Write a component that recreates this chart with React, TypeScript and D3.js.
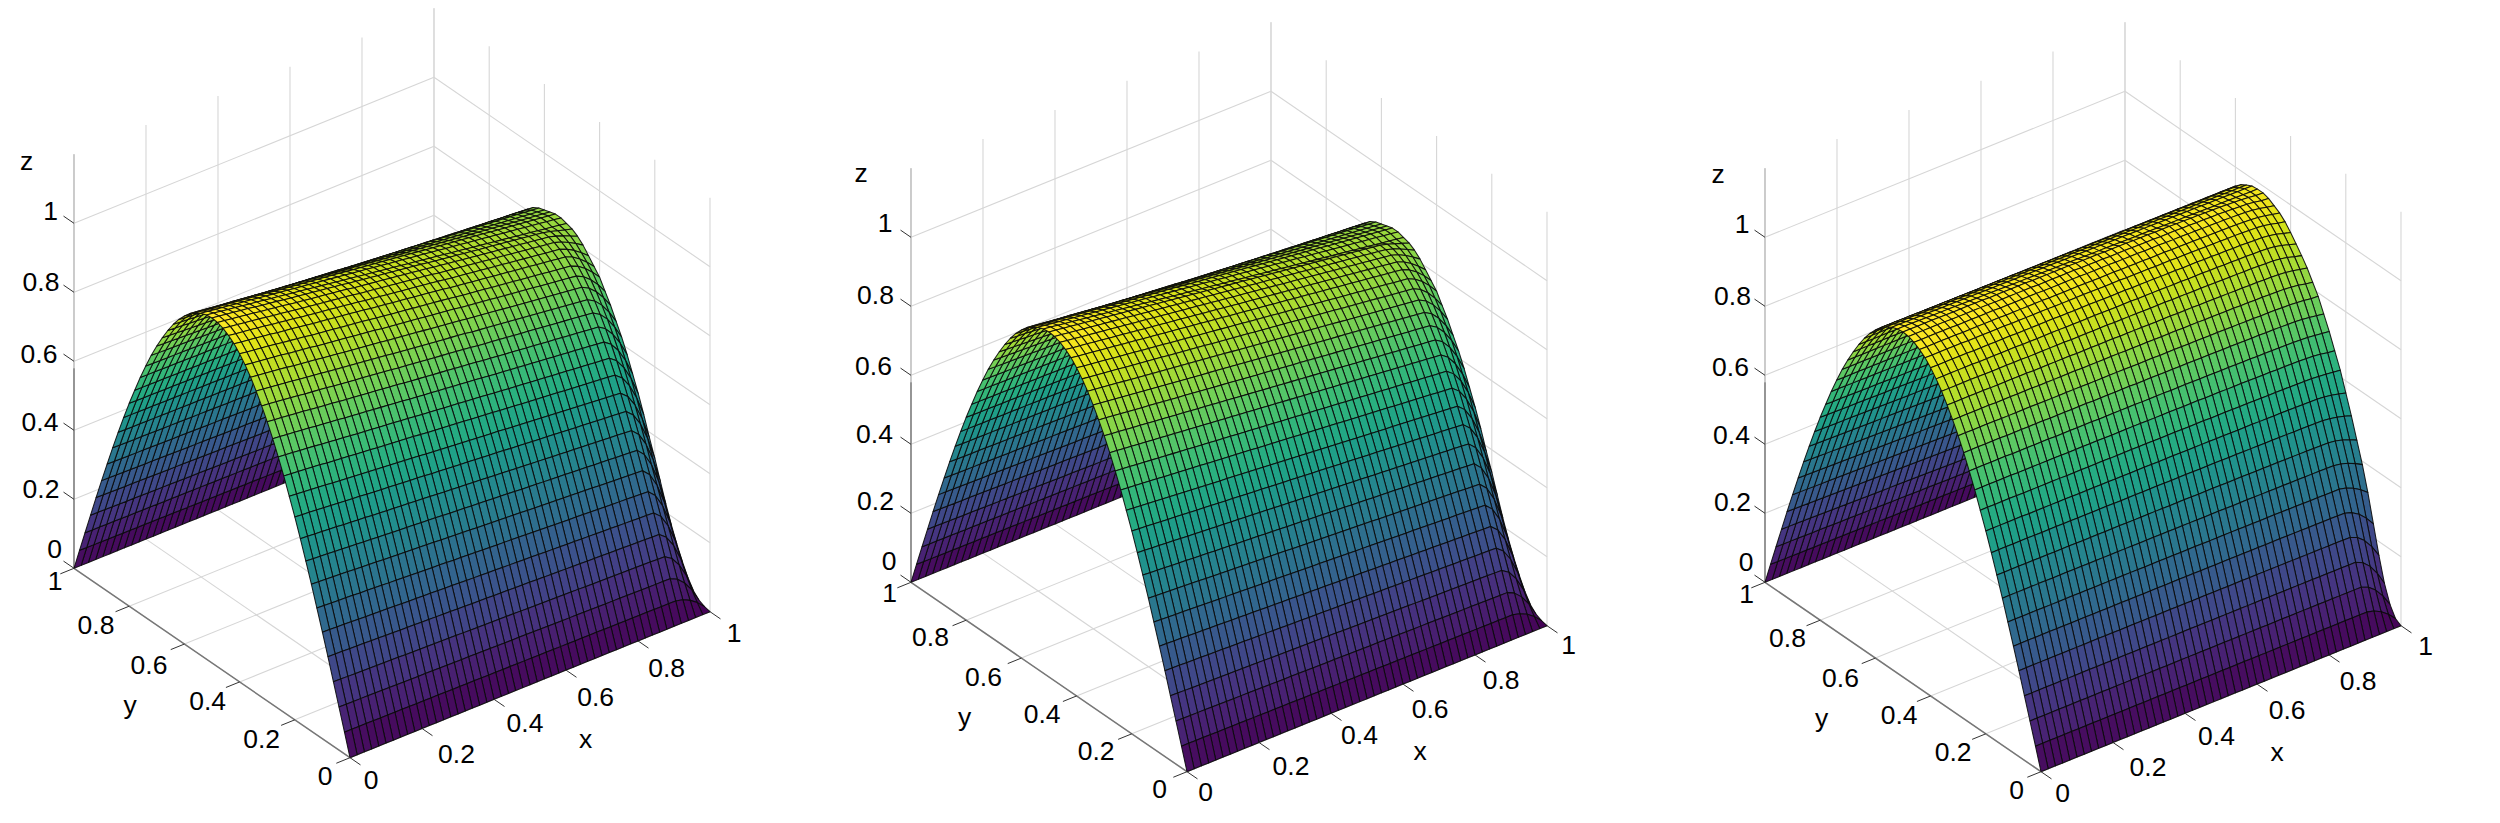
import React, { useMemo } from "react";
import * as d3 from "d3";

const xGrid = [0,.02,.04,.06,.08,.1,.12,.14,.16,.18,.2,.22,.24,.26,.28,.3,.32,.34,.36,.38,.4,.42,.44,.46,.48,.5,.52,.54,.56,.58,.6,.62,.64,.66,.68,.7,.72,.74,.76,.78,.8,.82,.84,.86,.88,.9,.92,.94,.96,.98,1];
const yGrid = xGrid;
const yProfile = [0,.063,.125,.187,.249,.309,.368,.426,.482,.536,.588,.637,.685,.729,.771,.809,.844,.876,.905,.93,.951,.969,.982,.992,.998,1,.998,.992,.982,.969,.951,.93,.905,.876,.844,.809,.771,.729,.685,.637,.588,.536,.482,.426,.368,.309,.249,.187,.125,.063,0];
const farLeft = [0,.004,.012,.028,.055,.09,.13,.175,.225,.28,.335,.385,.44,.49,.535,.58,.62,.655,.69,.72,.75,.77,.79,.81,.825,.835,.84,.845,.845,.84,.835,.83,.82,.805,.785,.765,.74,.71,.67,.625,.575,.525,.47,.41,.35,.29,.23,.17,.115,.055,0];
const farMiddle = [0,.004,.012,.028,.055,.09,.13,.175,.225,.28,.335,.385,.44,.49,.535,.58,.62,.655,.69,.72,.75,.77,.79,.81,.825,.835,.84,.845,.845,.84,.835,.83,.82,.805,.785,.765,.74,.71,.67,.625,.575,.525,.47,.41,.35,.29,.23,.17,.115,.055,0];
const farRight = [0,.01,.04,.09,.16,.24,.32,.39,.45,.51,.565,.62,.665,.71,.75,.79,.82,.85,.875,.898,.92,.94,.955,.965,.975,.98,.98,.978,.97,.96,.945,.925,.9,.875,.845,.81,.77,.725,.675,.62,.57,.515,.46,.4,.345,.285,.225,.165,.11,.055,0];
// share of the far cross-section in each column, front half and back half of the ridge
const frontBlend = [0,0,0,0,0,0,0,0,0,0,0,0,0,0,0,0,0,0,0,0,0,0,0,0,0,0,0,0,0,0,0,0,0,0,0,0,0,0,0,0,0,0,0,0,0,0,0,.1,.3,.6,1];
const backBlend = [0,.02,.04,.06,.08,.1,.12,.14,.16,.18,.2,.22,.24,.26,.28,.3,.32,.34,.36,.38,.4,.42,.44,.46,.48,.5,.52,.54,.56,.58,.6,.62,.64,.66,.68,.7,.72,.74,.76,.78,.8,.82,.84,.86,.88,.9,.92,.94,.96,.98,1];
const ridgeLeft = [1,.997,.994,.991,.988,.985,.981,.978,.975,.972,.968,.965,.962,.959,.956,.953,.95,.947,.944,.94,.937,.934,.931,.928,.925,.922,.919,.916,.913,.91,.906,.903,.9,.897,.894,.891,.888,.885,.882,.879,.876,.873,.87,.867,.864,.861,.858,.855,.852,.849,.846];
const ridgeMiddle = [1,.997,.994,.991,.988,.985,.982,.979,.976,.973,.97,.967,.964,.961,.958,.955,.952,.949,.946,.943,.94,.937,.934,.931,.928,.925,.922,.919,.916,.913,.91,.907,.904,.901,.898,.895,.892,.889,.886,.883,.88,.877,.874,.871,.868,.865,.862,.859,.856,.853,.85];
const ridgeRight = [1,1,1,1,1,1,.999,.999,.999,.999,.999,.999,.998,.998,.998,.998,.998,.998,.997,.997,.997,.997,.997,.997,.996,.996,.996,.996,.995,.995,.995,.995,.994,.994,.994,.993,.993,.993,.992,.992,.991,.991,.99,.99,.989,.988,.987,.986,.985,.982,.98];
const xTicks = [0, 0.2, 0.4, 0.6, 0.8, 1];
const yTicks = [0, 0.2, 0.4, 0.6, 0.8, 1];
const zTicks = [0, 0.2, 0.4, 0.6, 0.8, 1];
const zTop = 1.2;

const panelRidges = [ridgeLeft, ridgeMiddle, ridgeRight];
const panelFars = [farLeft, farMiddle, farRight];
const panelOrigins = [[350, 757.7], [1187, 771.7], [2041, 771.7]];
const panelLabelNudges = [[0, -1.5], [-2.5, -3], [0.5, -2]];

const FONT = "'Liberation Sans', Arial, sans-serif";

function Panel({ ridge, far, origin, nudge }: { ridge: number[]; far: number[]; origin: number[]; nudge: number[] }) {
  const [ox, oy] = origin;
  const xX = d3.scaleLinear().domain([0, 1]).range([0, 360]);
  const xY = d3.scaleLinear().domain([0, 1]).range([0, -146]);
  const yX = d3.scaleLinear().domain([0, 1]).range([0, -276]);
  const yY = d3.scaleLinear().domain([0, 1]).range([0, -189.4]);
  const zY = d3.scaleLinear().domain([0, 1]).range([0, -345]);
  const P = (x: number, y: number, z: number): [number, number] => [
    ox + xX(x) + yX(y),
    oy + xY(x) + yY(y) + zY(z),
  ];
  const seg = (a: [number, number], b: [number, number]) => ({ x1: a[0], y1: a[1], x2: b[0], y2: b[1] });

  const Z = useMemo(
    () =>
      xGrid.map((_, i) =>
        yGrid.map((_, j) =>
          j <= 25
            ? (1 - frontBlend[i]) * ridge[i] * yProfile[j] + frontBlend[i] * far[j]
            : (1 - backBlend[i]) * yProfile[j] + backBlend[i] * far[j]
        )
      ),
    [ridge, far]
  );
  const color = d3.scaleSequential(d3.interpolateViridis).domain([0, d3.max(Z.flat()) as number]);
  const line = d3.line();

  const quads: { d: string; fill: string; key: string }[] = [];
  for (let i = xGrid.length - 2; i >= 0; i--) {
    for (let j = yGrid.length - 2; j >= 0; j--) {
      const pts = [
        P(xGrid[i], yGrid[j], Z[i][j]),
        P(xGrid[i + 1], yGrid[j], Z[i + 1][j]),
        P(xGrid[i + 1], yGrid[j + 1], Z[i + 1][j + 1]),
        P(xGrid[i], yGrid[j + 1], Z[i][j + 1]),
      ];
      const c = (Z[i][j] + Z[i + 1][j] + Z[i + 1][j + 1] + Z[i][j + 1]) / 4;
      quads.push({ d: line(pts) + "Z", fill: color(c), key: `${i}-${j}` });
    }
  }

  const grid = [
    ...xTicks.map((t) => seg(P(t, 0, 0), P(t, 1, 0))),
    ...yTicks.map((t) => seg(P(0, t, 0), P(1, t, 0))),
    ...xTicks.map((t) => seg(P(t, 1, 0), P(t, 1, zTop))),
    ...yTicks.map((t) => seg(P(1, t, 0), P(1, t, zTop))),
    ...zTicks.map((t) => seg(P(0, 1, t), P(1, 1, t))),
    ...zTicks.map((t) => seg(P(1, 0, t), P(1, 1, t))),
  ];
  const tl = 0.038;
  const ticks = [
    ...xTicks.map((t) => seg(P(t, 0, 0), P(t, -tl, 0))),
    ...yTicks.map((t) => seg(P(0, t, 0), P(-tl, t, 0))),
    ...zTicks.map((t) => seg(P(0, 1, t), P(0, 1 + tl, t))),
  ];
  const dx = ox - 350 + nudge[0], dy = oy - 757.7 + nudge[1];
  const xLabelPos = [[371, 781], [456.5, 755], [525, 724], [595.7, 698], [666.6, 669], [734, 634]];
  const yLabelPos = [[325, 777.5], [261.6, 740], [207.6, 702.5], [149, 666], [96, 626], [55, 582]];
  const zLabelPos = [[54.6, 550], [41, 490], [40, 423], [39, 355], [41, 283.5], [50.5, 212]];
  const Label = ({ p, s }: { p: number[]; s: string | number }) => (
    <text x={p[0] + dx} y={p[1] + dy} fontFamily={FONT} fontSize={26.5} fill="#000" textAnchor="middle" dominantBaseline="central">{s}</text>
  );

  return (
    <g>
      {grid.map((g, k) => <line key={k} {...g} stroke="#d6d6d6" strokeWidth={1.1} />)}
      <line {...seg(P(0, 1, 0.58), P(0, 1, zTop))} stroke="#c4c4c4" strokeWidth={1.6} />
      <line {...seg(P(0, 1, 0), P(0, 1, 0.58))} stroke="#808080" strokeWidth={1.6} />
      <line {...seg(P(0, 1, 0), P(0, 0, 0))} stroke="#777" strokeWidth={1.5} />
      <line {...seg(P(0, 0, 0), P(1, 0, 0))} stroke="#999" strokeWidth={1.2} />
      {quads.map((q) => (
        <path key={q.key} d={q.d} fill={q.fill} stroke="#0a0a0a" strokeOpacity={0.9} strokeWidth={1.05} strokeLinejoin="round" />
      ))}
      {ticks.map((g, k) => <line key={k} {...g} stroke="#333" strokeWidth={1} />)}
      {xTicks.map((t, k) => <Label key={"x" + k} p={xLabelPos[k]} s={t} />)}
      {yTicks.map((t, k) => <Label key={"y" + k} p={yLabelPos[k]} s={t} />)}
      {zTicks.map((t, k) => <Label key={"z" + k} p={zLabelPos[k]} s={t} />)}
      <Label p={[585.5, 740]} s="x" />
      <Label p={[130, 706]} s="y" />
      <Label p={[26.5, 162]} s="z" />
    </g>
  );
}

export default function App() {
  return (
    <svg width={2500} height={823} style={{ position: "absolute", left: 0, top: 0, background: "#fff" }}>
      {panelRidges.map((r, k) => (
        <Panel key={k} ridge={r} far={panelFars[k]} origin={panelOrigins[k]} nudge={panelLabelNudges[k]} />
      ))}
    </svg>
  );
}
